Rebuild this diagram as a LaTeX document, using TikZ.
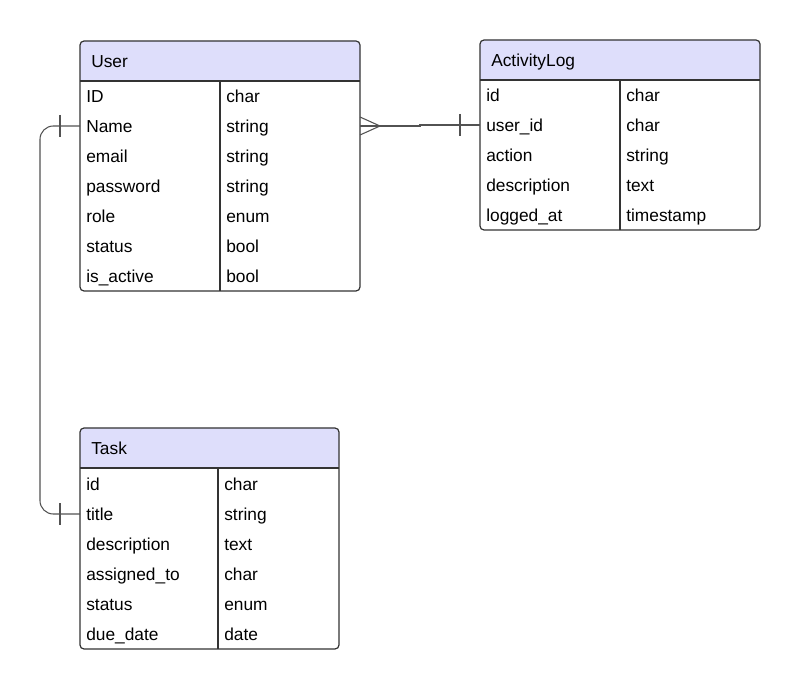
\documentclass[tikz,border=0pt]{standalone}
\usepackage{fontspec}
\setmainfont{Liberation Sans}
\usetikzlibrary{positioning}
\definecolor{hdrfill}{HTML}{DEDEFB}
\definecolor{linecol}{HTML}{333333}

\begin{document}
\begin{tikzpicture}[x=0.75pt,y=-0.75pt,
    title/.style={anchor=west,inner sep=0pt,text height=1.6ex,text depth=0.4ex,font=\fontsize{13}{15}\selectfont},
    cell/.style={anchor=west,inner sep=0pt,text height=1.6ex,text depth=0.4ex,font=\fontsize{13}{15}\selectfont},
    box/.style={draw=linecol,line width=0.9pt,rounded corners=3},
    grid/.style={draw=linecol,line width=0.8pt},
    rel/.style={draw=linecol!85,line width=0.8pt}]
  \useasboundingbox (0,0) rectangle (801,688);

  % User
  \fill[hdrfill] (80,81) [rounded corners=3] |- (220,41) -| (360,81) [sharp corners] -- cycle;
  \draw[box] (80,41) rectangle (360,291);
  \draw[grid] (80,81) -- (360,81) (220,81) -- (220,291);
  \node[title] (user) at (91,63) {User};
  \foreach \f/\t [count=\i] in {ID/char,Name/string,email/string,password/string,role/enum,status/bool,is\_active/bool} {
    \node[cell] (user-f\i) at (86,{68+30*\i}) {\f};
    \node[cell] (user-t\i) at (226,{68+30*\i}) {\t};
    \coordinate (user-l\i) at (80,{66+30*\i});
    \coordinate (user-r\i) at (360,{66+30*\i});
  }

  % ActivityLog
  \fill[hdrfill] (480,80) [rounded corners=3] |- (620,40) -| (760,80) [sharp corners] -- cycle;
  \draw[box] (480,40) rectangle (760,230);
  \draw[grid] (480,80) -- (760,80) (620,80) -- (620,230);
  \node[title] (log) at (491,62) {ActivityLog};
  \foreach \f/\t [count=\i] in {id/char,user\_id/char,action/string,description/text,logged\_at/timestamp} {
    \node[cell] (log-f\i) at (486,{67+30*\i}) {\f};
    \node[cell] (log-t\i) at (626,{67+30*\i}) {\t};
    \coordinate (log-l\i) at (480,{65+30*\i});
  }

  % Task
  \fill[hdrfill] (80,468) [rounded corners=3] |- (218,428) -| (339,468) [sharp corners] -- cycle;
  \draw[box] (80,428) rectangle (339,649);
  \draw[grid] (80,468) -- (339,468) (218,468) -- (218,649);
  \node[title] (task) at (91,450) {Task};
  \foreach \f/\t [count=\i] in {id/char,title/string,description/text,assigned\_to/char,status/enum,due\_date/date} {
    \node[cell] (task-f\i) at (86,{456+30*\i}) {\f};
    \node[cell] (task-t\i) at (224,{456+30*\i}) {\t};
    \coordinate (task-l\i) at (80,{454+30*\i});
  }

  % User -- ActivityLog
  \draw[rel] (user-r2) -- ++(60,0) |- (log-l2);
  \draw[rel] (user-r2) ++(0,-9) -- ++(20,9) -- ++(-20,9);
  \draw[rel] (log-l2) ++(-20,-11) -- ++(0,22);

  % User -- Task
  \draw[rel,rounded corners=10] (user-l2) -- ++(-40,0) |- (task-l2);
  \draw[rel] (user-l2) ++(-20,-11) -- ++(0,22);
  \draw[rel] (task-l2) ++(-20,-11) -- ++(0,22);
\end{tikzpicture}
\end{document}
